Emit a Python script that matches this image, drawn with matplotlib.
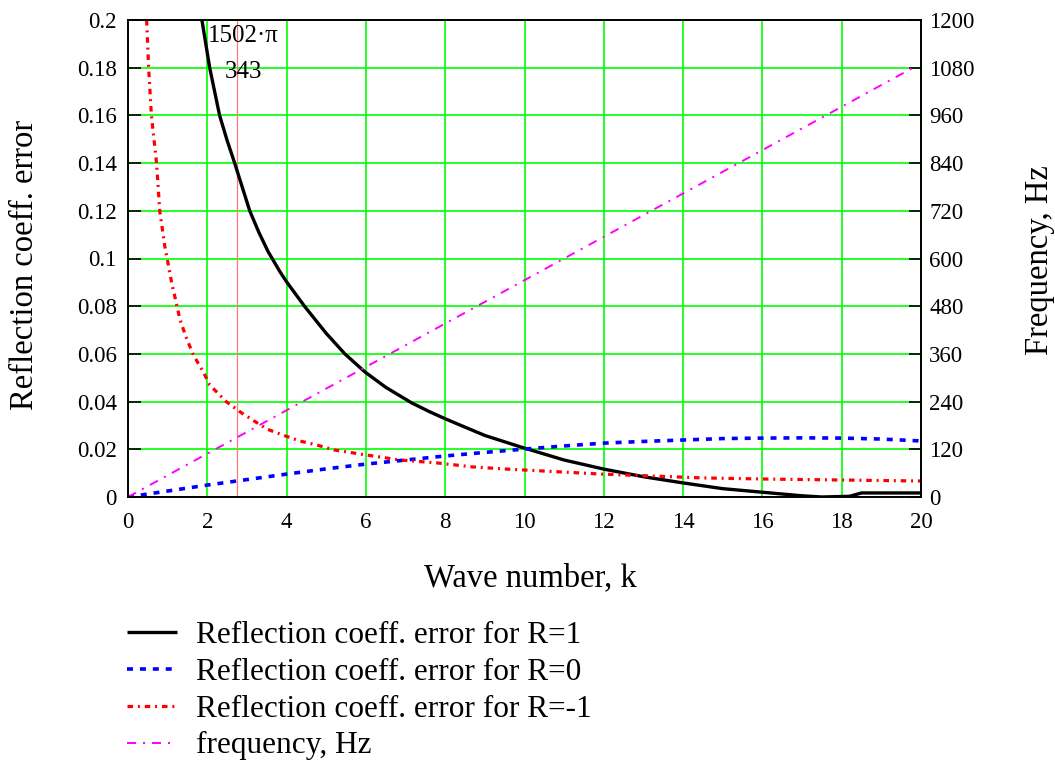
import matplotlib
matplotlib.use("Agg")
import matplotlib.pyplot as plt

plt.rcParams['font.family'] = ['Liberation Serif', 'DejaVu Serif']
plt.rcParams['lines.scale_dashes'] = False

# Data
k_r1 = [1.864, 2.06, 2.31, 2.5, 2.69, 3.07, 3.3, 3.53, 3.83, 4.0, 4.46, 5.0, 5.47, 5.97, 6.5,
        7.15, 7.6, 8.0, 8.37, 9.0, 9.9, 10.5, 11.0, 12.0, 13.0, 14.0, 15.0, 16.0, 17.0, 17.5,
        18.2, 18.5, 19.0, 20.0]
err_r1 = [0.2, 0.18, 0.16, 0.1495, 0.14, 0.12, 0.111, 0.103, 0.0945, 0.0902, 0.0798, 0.0686,
          0.060, 0.0525, 0.046, 0.0395, 0.0358, 0.0328, 0.0302, 0.0258, 0.021, 0.018, 0.0155,
          0.0117, 0.0085, 0.0059, 0.0035, 0.002, 0.0005, 0.0, 0.0003, 0.0017, 0.0017, 0.0017]

k_r0 = [0, 1, 2, 3, 4, 5, 6, 7, 8, 9, 10, 11, 12, 13, 14, 15, 16, 17, 18, 19, 20]
err_r0 = [0.0, 0.0025, 0.005, 0.0073, 0.0096, 0.0118, 0.0138, 0.0155, 0.0172, 0.0187, 0.0201,
          0.0214, 0.0226, 0.0233, 0.0239, 0.0245, 0.0247, 0.0248, 0.0247, 0.0243, 0.0235]

k_rm1 = [0.47, 0.52, 0.59, 0.72, 0.80, 0.93, 1.10, 1.31, 1.46, 1.65, 1.90, 2.06, 2.49, 2.87,
         3.50, 3.90, 4.33, 4.76, 5.21, 6.02, 6.86, 7.79, 8.70, 9.56, 11.95, 14.5, 16.2, 20.0]
err_rm1 = [0.2, 0.18, 0.16, 0.14, 0.120, 0.105, 0.090, 0.0745, 0.0672, 0.0595, 0.0524, 0.047,
           0.0398, 0.0352, 0.0285, 0.026, 0.0235, 0.0218, 0.0197, 0.0176, 0.0155, 0.0143,
           0.0126, 0.0117, 0.0096, 0.008, 0.0075, 0.0067]

k_freq = [0.0, 19.8]
freq_hz = [0.0, 1080.0]

marker_k = 2.748
annot_top = "1502\u00b7\u03c0"
annot_bottom = "343"

x_ticks = [0, 2, 4, 6, 8, 10, 12, 14, 16, 18, 20]
y_ticks = [0, 0.02, 0.04, 0.06, 0.08, 0.1, 0.12, 0.14, 0.16, 0.18, 0.2]
y_tick_labels = ["0", "0.02", "0.04", "0.06", "0.08", "0.1", "0.12", "0.14", "0.16", "0.18", "0.2"]
f_ticks = [0, 120, 240, 360, 480, 600, 720, 840, 960, 1080, 1200]

labels = ["Reflection coeff. error for R=1", "Reflection coeff. error for R=0",
          "Reflection coeff. error for R=-1", "frequency, Hz"]

W, H = 1055, 767
fig = plt.figure(figsize=(W / 100, H / 100), dpi=100)
L, R, T, B = 128, 921, 20, 497
ax = fig.add_axes([L / W, 1 - B / H, (R - L) / W, (B - T) / H])
ax2 = ax.twinx()

ax.set_xlim(0, 20)
ax.set_ylim(0, 0.2)
ax2.set_ylim(0, 1200)

ax.set_xticks(x_ticks)
ax.set_yticks(y_ticks)
ax.set_yticklabels(y_tick_labels)
ax2.set_yticks(f_ticks)
ax.grid(True, color='#00ff00', lw=1.2)
ax.set_axisbelow(True)

ax.tick_params(axis='x', length=0, labelsize=16.5, pad=11)
ax.tick_params(axis='y', direction='in', length=9, width=1.2, labelsize=16.5, pad=8)
ax2.tick_params(axis='y', direction='in', length=9, width=1.2, labelsize=16.5, pad=6)
for a in (ax, ax2):
    for s in a.spines.values():
        s.set_linewidth(1.2)

ax.axvline(marker_k, color='#ff7878', lw=0.9)

l1, = ax.plot(k_r1, err_r1, color='black', lw=2.4, solid_capstyle='butt', solid_joinstyle='round')
l2, = ax.plot(k_r0, err_r0, color='#0000ff', lw=2.6, linestyle=(0, (4.3, 5.0)))
l3, = ax.plot(k_rm1, err_rm1, color='#ff0000', lw=2.3, linestyle=(0, (4.0, 3.5, 1.4, 3.5)))
l4, = ax2.plot(k_freq, freq_hz, color='#ff00ff', lw=1.4, linestyle=(0, (6.5, 5.0, 1.5, 5.0)))

ax.text(2.92, 0.1935, annot_top, ha='center', va='center', fontsize=18)
ax.text(2.92, 0.178, annot_bottom, ha='center', va='center', fontsize=18)

fig.text(530 / W, 1 - 578 / H, "Wave number, k", ha='center', va='center', fontsize=23.5)
fig.text(25 / W, 1 - 265 / H, "Reflection coeff. error", ha='center', va='center',
         rotation=90, fontsize=23.5)
fig.text(1040 / W, 1 - 260 / H, "Frequency, Hz", ha='center', va='center',
         rotation=90, fontsize=23.5)

fig.legend([l1, l2, l3, l4], labels, loc='upper left',
           bbox_to_anchor=(127 / W, 1 - 621 / H), frameon=False, fontsize=22.5,
           handlelength=1.6, handletextpad=0.6, labelspacing=0.25, borderpad=0,
           borderaxespad=0)

fig.savefig("out.png", dpi=100)
